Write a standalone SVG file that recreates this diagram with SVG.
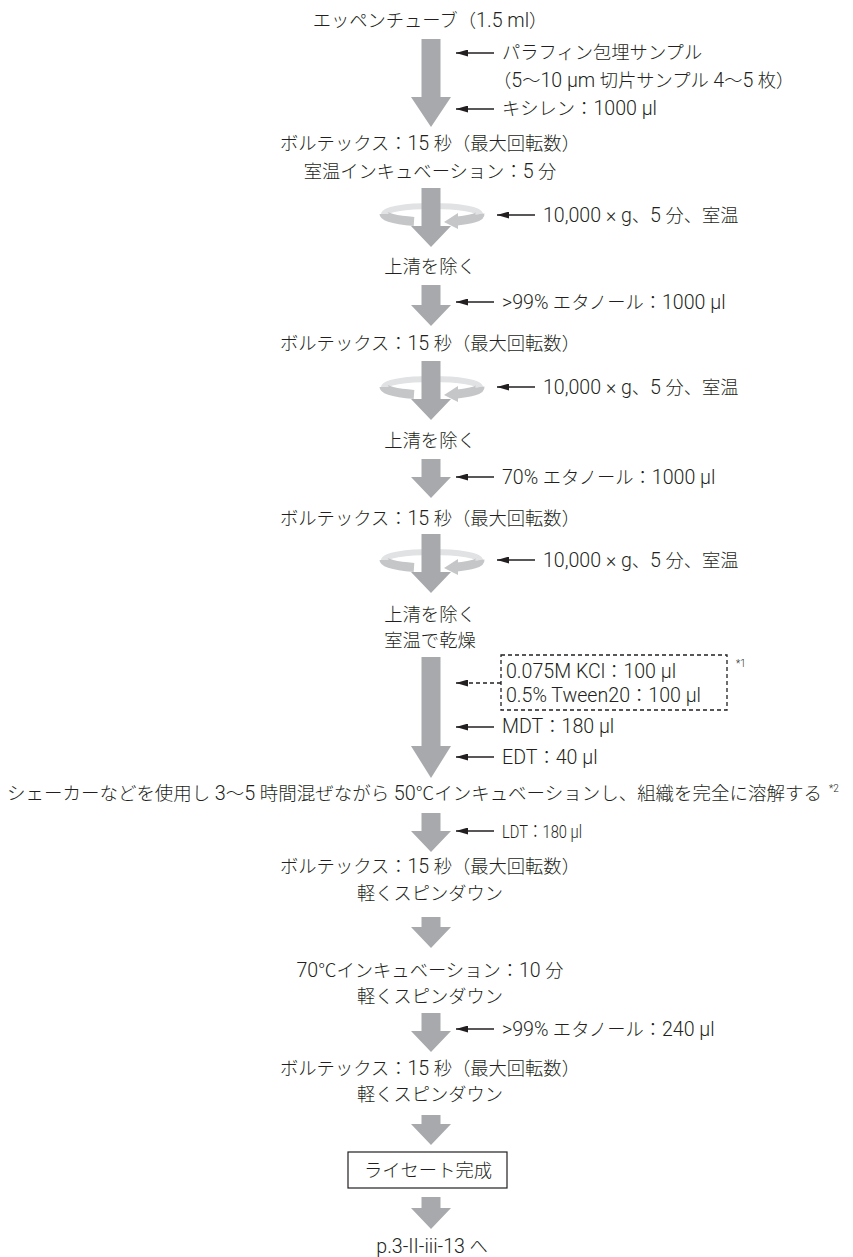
<svg xmlns="http://www.w3.org/2000/svg" width="853" height="1257" viewBox="0 0 853 1257">
<defs>
<marker id="ah" markerUnits="userSpaceOnUse" markerWidth="12" markerHeight="7" refX="12" refY="3.5" orient="auto"><path d="M0,0 L12,3.5 L0,7 Z" fill="#231f20"/></marker>
</defs>
<style>
text{font-family:Roboto,"Noto Sans CJK JP",sans-serif;font-size:18.3px;fill:#231f20;font-weight:300;dominant-baseline:central}
.L{font-size:19.6px}
.c{text-anchor:middle}
.sup{font-size:10px}
.big{fill:#a7a9ac}
.back{fill:none;stroke:#e1e2e3;stroke-width:6}
.front{fill:none;stroke:#c5c6c8;stroke-width:9}
.head{fill:#c5c6c8}
.ln{stroke:#231f20;stroke-width:1.3;fill:none;marker-end:url(#ah)}
.dash{stroke-dasharray:4 3}
</style>
<g id="connectors">
<g id="ring1"><path class="back" d="M384,214 A48,8 0 0 1 480,214"/><path class="front" d="M384,214 A48,8 0 0 0 414,221.4"/><path class="front" d="M480,214 A48,8 0 0 1 457,221"/><path class="head" d="M444,222 L458,213 L458,229 Z"/></g>
<g id="ring2"><path class="back" d="M384,387 A48,8 0 0 1 480,387"/><path class="front" d="M384,387 A48,8 0 0 0 414,394.4"/><path class="front" d="M480,387 A48,8 0 0 1 457,394"/><path class="head" d="M444,395 L458,386 L458,402 Z"/></g>
<g id="ring3"><path class="back" d="M384,560 A48,8 0 0 1 480,560"/><path class="front" d="M384,560 A48,8 0 0 0 414,567.4"/><path class="front" d="M480,560 A48,8 0 0 1 457,567"/><path class="head" d="M444,568 L458,559 L458,575 Z"/></g>
<path class="big" d="M421.5,39 H440.5 V97 H451 L431,127 L411,97 H421.5 Z"/>
<path class="big" d="M421.5,188 H440.5 V226 H451 L431,247 L411,226 H421.5 Z"/>
<path class="big" d="M421.5,285 H440.5 V305 H451 L431,326 L411,305 H421.5 Z"/>
<path class="big" d="M421.5,361 H440.5 V399 H451 L431,420 L411,399 H421.5 Z"/>
<path class="big" d="M421.5,459 H440.5 V477 H451 L431,498 L411,477 H421.5 Z"/>
<path class="big" d="M421.5,534 H440.5 V572 H451 L431,593 L411,572 H421.5 Z"/>
<path class="big" d="M421.5,657 H440.5 V746 H451 L431,778 L411,746 H421.5 Z"/>
<path class="big" d="M421.5,813 H440.5 V831 H451 L431,852 L411,831 H421.5 Z"/>
<path class="big" d="M421.5,917 H440.5 V927 H451 L431,948 L411,927 H421.5 Z"/>
<path class="big" d="M421.5,1013 H440.5 V1031 H451 L431,1052 L411,1031 H421.5 Z"/>
<path class="big" d="M421.5,1115 H440.5 V1124 H451 L431,1145 L411,1124 H421.5 Z"/>
<path class="big" d="M421.5,1197 H440.5 V1208 H451 L431,1229 L411,1208 H421.5 Z"/>
<line class="ln" x1="494" y1="53" x2="456" y2="53"/>
<line class="ln" x1="494" y1="109" x2="456" y2="109"/>
<line class="ln" x1="535" y1="215" x2="497" y2="215"/>
<line class="ln" x1="494" y1="302" x2="456" y2="302"/>
<line class="ln" x1="535" y1="387" x2="497" y2="387"/>
<line class="ln" x1="494" y1="477" x2="456" y2="477"/>
<line class="ln" x1="535" y1="560" x2="497" y2="560"/>
<line class="ln dash" x1="501" y1="683" x2="456" y2="683"/>
<line class="ln" x1="494" y1="727" x2="456" y2="727"/>
<line class="ln" x1="494" y1="757" x2="456" y2="757"/>
<line class="ln" x1="494" y1="831" x2="456" y2="831"/>
<line class="ln" x1="494" y1="1029" x2="456" y2="1029"/>
</g>
<g id="n1"><text class="c" x="430" y="20">エッペンチューブ（<tspan class="L">1.5 ml</tspan>）</text></g>
<g id="n2"><text x="502" y="52">パラフィン包埋サンプル</text><text x="493" y="80">（<tspan class="L">5</tspan>～<tspan class="L">10 μm</tspan> 切片サンプル <tspan class="L">4</tspan>～<tspan class="L">5</tspan> 枚）</text></g>
<g id="n3"><text x="502" y="108">キシレン：<tspan class="L">1000 μl</tspan></text></g>
<g id="n4"><text class="c" x="430" y="143">ボルテックス：<tspan class="L">15</tspan> 秒（最大回転数）</text><text class="c" x="430" y="171">室温インキュベーション：<tspan class="L">5</tspan> 分</text></g>
<g id="n5"><text x="543" y="215"><tspan class="L">10,000 × g</tspan>、<tspan class="L">5</tspan> 分、室温</text></g>
<g id="n6"><text class="c" x="430" y="266">上清を除く</text></g>
<g id="n7"><text x="502" y="302"><tspan class="L">&gt;99%</tspan> エタノール：<tspan class="L">1000 μl</tspan></text></g>
<g id="n8"><text class="c" x="430" y="343">ボルテックス：<tspan class="L">15</tspan> 秒（最大回転数）</text></g>
<g id="n9"><text x="543" y="387"><tspan class="L">10,000 × g</tspan>、<tspan class="L">5</tspan> 分、室温</text></g>
<g id="n10"><text class="c" x="430" y="440">上清を除く</text></g>
<g id="n11"><text x="502" y="477"><tspan class="L">70%</tspan> エタノール：<tspan class="L">1000 μl</tspan></text></g>
<g id="n12"><text class="c" x="430" y="518">ボルテックス：<tspan class="L">15</tspan> 秒（最大回転数）</text></g>
<g id="n13"><text x="543" y="560"><tspan class="L">10,000 × g</tspan>、<tspan class="L">5</tspan> 分、室温</text></g>
<g id="n14"><text class="c" x="430" y="614">上清を除く</text><text class="c" x="430" y="640">室温で乾燥</text></g>
<g id="n15"><rect x="501" y="655" width="226" height="55" fill="none" stroke="#231f20" stroke-width="1.3" stroke-dasharray="4 3"/><text x="506" y="671"><tspan class="L">0.075M KCl</tspan>：<tspan class="L">100 μl</tspan></text><text x="506" y="695"><tspan class="L">0.5% Tween20</tspan>：<tspan class="L">100 μl</tspan></text><text class="sup" x="736" y="663">*1</text></g>
<g id="n16"><text x="502" y="726"><tspan class="L">MDT</tspan>：<tspan class="L">180 μl</tspan></text></g>
<g id="n17"><text x="502" y="757"><tspan class="L">EDT</tspan>：<tspan class="L">40 μl</tspan></text></g>
<g id="n18"><text x="7" y="793" textLength="815" lengthAdjust="spacingAndGlyphs">シェーカーなどを使用し <tspan class="L">3</tspan>～<tspan class="L">5</tspan> 時間混ぜながら <tspan class="L">50</tspan>℃インキュベーションし、組織を完全に溶解する</text><text class="sup" x="829" y="788">*2</text></g>
<g id="n19"><text x="502" y="831" textLength="80" lengthAdjust="spacingAndGlyphs">LDT：180 μl</text></g>
<g id="n20"><text class="c" x="430" y="866">ボルテックス：<tspan class="L">15</tspan> 秒（最大回転数）</text><text class="c" x="430" y="893">軽くスピンダウン</text></g>
<g id="n21"><text class="c" x="430" y="970"><tspan class="L">70</tspan>℃インキュベーション：<tspan class="L">10</tspan> 分</text><text class="c" x="430" y="996">軽くスピンダウン</text></g>
<g id="n22"><text x="502" y="1029"><tspan class="L">&gt;99%</tspan> エタノール：<tspan class="L">240 μl</tspan></text></g>
<g id="n23"><text class="c" x="430" y="1068">ボルテックス：<tspan class="L">15</tspan> 秒（最大回転数）</text><text class="c" x="430" y="1094">軽くスピンダウン</text></g>
<g id="n24"><rect x="348" y="1152" width="159" height="36" fill="#fff" stroke="#231f20" stroke-width="1.2"/><text class="c" x="428" y="1170">ライセート完成</text></g>
<g id="n25"><text class="c" x="432" y="1246"><tspan class="L">p.3-II-iii-13</tspan> へ</text></g>
</svg>
